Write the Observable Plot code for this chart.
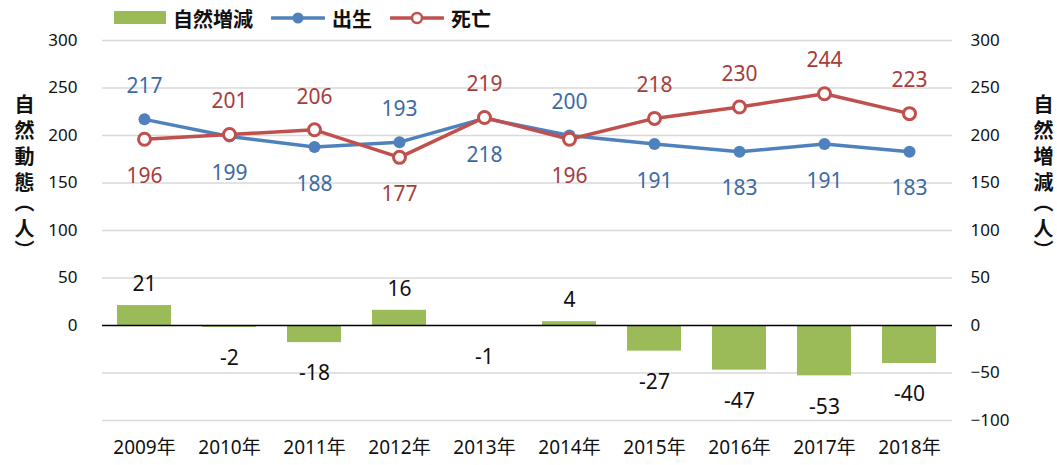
<!DOCTYPE html>
<html>
<head>
<meta charset="utf-8">
<script src="https://cdn.jsdelivr.net/npm/d3@7"></script>
<script src="https://cdn.jsdelivr.net/npm/@observablehq/plot@0.6"></script>
<style>
  html, body { margin: 0; padding: 0; background: #fff; }
  #wrap { position: relative; width: 1057px; height: 465px; overflow: hidden;
    font-family: "Noto Sans", "Noto Sans CJK TC", sans-serif; }
  #chart { position: absolute; left: 0; top: 0; }
  .legend { position: absolute; top: 4px; left: 114px; display: flex; align-items: center; height: 28px;
    font-family: "Noto Sans CJK TC", sans-serif; font-size: 20px; font-weight: bold; color: #111; }
  .legend .item { display: flex; align-items: center; margin-right: 18px; }
  .legend svg { margin-right: 7px; }
  .vtitle { position: absolute; writing-mode: vertical-rl; text-orientation: mixed; line-height: 1;
    font-family: "Noto Sans CJK TC", sans-serif; font-size: 20px; font-weight: bold; color: #111; }
  .vtitle span { letter-spacing: 6px; }
  .vtitle span.pre { letter-spacing: 0px; }
  .vtitle span.open { letter-spacing: 6px; }
  .vtitle span.inner { letter-spacing: 2px; }
  .vtitle span.close { letter-spacing: 0px; }
</style>
</head>
<body>
<div id="wrap">
  <div id="chart"></div>
  <div class="legend" id="legend"></div>
  <div class="vtitle" id="ltitle" style="left:14px; top:94px;"></div>
  <div class="vtitle" id="rtitle" style="left:1033px; top:94px;"></div>
</div>
<script>
const years = ["2009年","2010年","2011年","2012年","2013年","2014年","2015年","2016年","2017年","2018年"];
const births = [217, 199, 188, 193, 218, 200, 191, 183, 191, 183];
const deaths = [196, 201, 206, 177, 219, 196, 218, 230, 244, 223];
const natural = [21, -2, -18, 16, -1, 4, -27, -47, -53, -40];
const leftTicks = [0, 50, 100, 150, 200, 250, 300];
const rightTicks = [-100, -50, 0, 50, 100, 150, 200, 250, 300];
const seriesNames = { natural: "自然増減", births: "出生", deaths: "死亡" };
const leftTitle = "自然動態（人）";
const rightTitle = "自然増減（人）";

const colors = { natural: "#9bbb59", births: "#4f81bd", deaths: "#c0504d",
  birthText: "#3d6aa4", deathText: "#a63c3c" };

const rows = years.map((y, i) => ({ year: y, b: births[i], d: deaths[i], n: natural[i] }));

const chart = Plot.plot({
  width: 1057,
  height: 465,
  marginTop: 40,
  marginBottom: 45,
  marginLeft: 102,
  marginRight: 105,
  style: { fontFamily: '"Noto Sans", "Noto Sans CJK TC", sans-serif', fontSize: "17px", color: "#111", background: "transparent" },
  x: { domain: years, type: "band", paddingInner: 0.36, paddingOuter: 0.18 },
  y: { domain: [-100, 300] },
  marks: [
    Plot.ruleY(rightTicks.filter(t => t !== 0), { stroke: "#d9d9d9", strokeWidth: 1.3 }),
    Plot.barY(rows, { x: "year", y: "n", fill: colors.natural }),
    Plot.ruleY([0], { stroke: "#000", strokeWidth: 1.3 }),
    Plot.line(rows, { x: "year", y: "b", stroke: colors.births, strokeWidth: 3.5 }),
    Plot.dot(rows, { x: "year", y: "b", fill: colors.births, r: 6, stroke: "none" }),
    Plot.line(rows, { x: "year", y: "d", stroke: colors.deaths, strokeWidth: 3.5 }),
    Plot.dot(rows, { x: "year", y: "d", fill: "#fff", stroke: colors.deaths, strokeWidth: 3, r: 6 }),
    Plot.text(rows.filter(r => r.b > r.d), { x: "year", y: "b", text: "b", dy: -33, fill: colors.birthText, fontSize: 21 }),
    Plot.text(rows.filter(r => r.b <= r.d), { x: "year", y: "b", text: "b", dy: 37, fill: colors.birthText, fontSize: 21 }),
    Plot.text(rows.filter(r => r.d > r.b), { x: "year", y: "d", text: "d", dy: -33, fill: colors.deathText, fontSize: 21 }),
    Plot.text(rows.filter(r => r.d <= r.b), { x: "year", y: "d", text: "d", dy: 37, fill: colors.deathText, fontSize: 21 }),
    Plot.text(rows.filter(r => r.n >= 0), { x: "year", y: "n", text: "n", dy: -21, fill: "#111", fontSize: 21 }),
    Plot.text(rows.filter(r => r.n < 0), { x: "year", y: "n", text: "n", dy: 31, fill: "#111", fontSize: 21 }),
    Plot.axisY(leftTicks, { anchor: "left", tickSize: 0, tickPadding: 25, label: null, fontSize: 17 }),
    Plot.axisY(rightTicks, { anchor: "right", tickSize: 0, tickPadding: 18, label: null, fontSize: 17 }),
    Plot.axisX(years, { anchor: "bottom", tickSize: 0, tickPadding: 20, label: null, fontSize: 19 })
  ]
});
document.getElementById("chart").appendChild(chart);

// legend
const legend = document.getElementById("legend");
function addItem(swatchSvg, label) {
  const item = document.createElement("div");
  item.className = "item";
  item.innerHTML = swatchSvg + "<span>" + label + "</span>";
  legend.appendChild(item);
}
addItem(`<svg width="52" height="14"><rect x="0" y="0" width="52" height="13" fill="${colors.natural}"/></svg>`, seriesNames.natural);
addItem(`<svg width="54" height="16"><line x1="1" x2="53" y1="8" y2="8" stroke="${colors.births}" stroke-width="3.5" stroke-linecap="round"/><circle cx="27" cy="8" r="5.5" fill="${colors.births}"/></svg>`, seriesNames.births);
addItem(`<svg width="54" height="16"><line x1="1" x2="53" y1="8" y2="8" stroke="${colors.deaths}" stroke-width="3.5" stroke-linecap="round"/><circle cx="27" cy="8" r="5" fill="#fff" stroke="${colors.deaths}" stroke-width="2.5"/></svg>`, seriesNames.deaths);

// vertical titles: full-width parentheses kept, spacing tuned around them
function fillTitle(el, text) {
  const chars = Array.from(text);
  chars.forEach((c, i) => {
    const s = document.createElement("span");
    s.textContent = c;
    if (chars[i + 1] === "（") s.className = "pre";
    else if (c === "（") s.className = "open";
    else if (c === "）") s.className = "close";
    else if (chars[i + 1] === "）") s.className = "inner";
    el.appendChild(s);
  });
}
fillTitle(document.getElementById("ltitle"), leftTitle);
fillTitle(document.getElementById("rtitle"), rightTitle);
</script>
</body>
</html>
